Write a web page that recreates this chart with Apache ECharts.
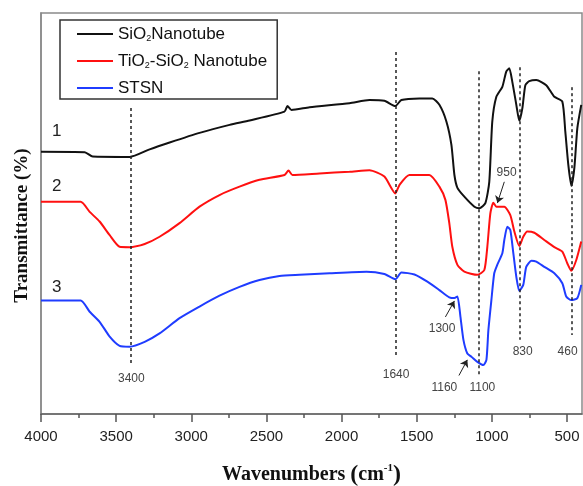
<!DOCTYPE html>
<html>
<head>
<meta charset="utf-8">
<script src="https://cdn.jsdelivr.net/npm/echarts@6/dist/echarts.min.js"></script>
<style>
html, body { margin: 0; padding: 0; background: #fff; }
#chart { width: 583px; height: 486px; }
</style>
</head>
<body>
<div id="chart"></div>
<script>
// FTIR spectra, values (transmittance in arbitrary %)
var wnSiO2 = [4000,3709,3656,3410,3277,3144,2945,2745,2612,2380,2360,2333,2213,1947,1814,1715,1642,1602,1482,1396,1349,1302,1269,1249,1229,1183,1116,1083,1043,1017,997,970,930,904,884,864,837,817,797,777,751,704,638,584,531,511,491,471,451,431,405];
var tSiO2 = [65.4,65.3,64.2,64.1,66.0,67.7,70.1,72.1,73.2,75.4,76.8,75.8,76.5,77.5,78.3,78.1,76.8,78.3,78.7,78.7,77.1,72.9,67.1,59.6,56.4,54.2,51.7,51.3,52.6,57.9,72.9,79.1,81.6,85.4,86.2,82.9,77.1,73.1,76.2,82.0,83.0,83.3,82.0,79.1,77.9,70.4,62.1,56.9,61.3,71.3,77.1];

var wnTiSi = [4000,3736,3676,3610,3543,3477,3410,3310,3211,3078,2945,2812,2679,2546,2380,2353,2327,2147,1947,1814,1715,1642,1615,1549,1416,1349,1309,1283,1263,1229,1183,1096,1050,1030,1010,990,970,917,877,850,817,791,764,717,651,584,531,498,471,438,405];
var tTiSi = [52.9,52.9,50.4,48.0,44.6,41.7,41.6,42.4,44.2,47.6,51.7,54.6,56.7,58.4,59.6,60.7,59.6,60.0,60.4,60.8,59.2,55.0,57.1,59.6,59.6,56.7,53.4,47.6,41.7,37.2,35.5,34.7,35.9,41.7,50.0,52.7,51.7,51.7,49.6,45.5,41.9,44.2,45.5,45.2,43.4,41.6,40.5,37.6,35.7,38.4,43.0];

var wnSTSN = [4000,3736,3676,3610,3543,3477,3410,3310,3211,3078,2945,2812,2679,2546,2413,2280,2080,1834,1715,1642,1602,1515,1429,1349,1283,1249,1229,1209,1189,1163,1136,1096,1057,1036,1023,1003,984,964,930,917,897,877,857,837,817,791,771,737,704,651,584,531,505,471,431,405];
var tSTSN = [28.3,28.3,25.5,23.0,19.3,17.0,16.8,18.0,20.1,23.9,26.8,29.5,31.7,33.4,34.4,34.7,35.1,35.5,34.9,33.6,35.3,34.8,33.0,30.9,29.1,28.9,29.3,24.3,18.5,15.1,14.3,13.0,12.2,13.5,20.9,28.4,35.1,37.2,40.1,43.4,46.7,45.9,40.1,34.2,30.7,32.2,36.7,38.2,38.0,36.7,35.1,32.6,29.3,28.4,28.9,32.2];

var seriesNames = ['SiO2Nanotube', 'TiO2-SiO2 Nanotube', 'STSN'];
var legendText = ['SiO{sub|2}Nanotube', 'TiO{sub|2}-SiO{sub|2} Nanotube', 'STSN'];

var majorTicks = [4000, 3500, 3000, 2500, 2000, 1500, 1000, 500];
var minorTicks = [3750, 3250, 2750, 2250, 1750, 1250, 750];

// dashed guide lines at the band positions
var guideWn = [3406, 1637, 1088, 815, 467];
var guideTop = [76.3, 90.3, 85.5, 86.5, 81.5];
var guideBottom = [12.2, 14.2, 9.2, 18.5, 19.7];

// band labels
var peakText = ['3400', '1640', '1300', '1160', '1100', '950', '830', '460'];
var peakWn = [3399, 1637, 1331, 1316, 1063, 902, 795, 496];
var peakT = [8.9, 9.7, 21.2, 6.5, 6.5, 60.3, 15.5, 15.5];

// arrows pointing at shoulders
var arrowFrom = [[917, 57.9], [1309, 24.2], [1219, 9.6]];
var arrowTo = [[963, 52.6], [1249, 28.2], [1163, 13.5]];

// curve numbers
var curveText = ['1', '2', '3'];
var curveWn = [3896, 3896, 3896];
var curveT = [70.4, 56.9, 31.7];

function zip(xs, ys) {
    var out = [];
    for (var i = 0; i < xs.length; i++) out.push([xs[i], ys[i]]);
    return out;
}

var myChart = echarts.init(document.getElementById('chart'));

var guideLines = [];
for (var i = 0; i < guideWn.length; i++) {
    guideLines.push([{coord: [guideWn[i], guideTop[i]]}, {coord: [guideWn[i], guideBottom[i]]}]);
}
var arrows = [];
for (var i = 0; i < arrowFrom.length; i++) {
    arrows.push([{coord: arrowFrom[i]}, {coord: arrowTo[i]}]);
}
var peakPoints = [];
for (var i = 0; i < peakText.length; i++) {
    peakPoints.push({coord: [peakWn[i], peakT[i]], value: peakText[i]});
}
for (var i = 0; i < curveText.length; i++) {
    peakPoints.push({
        coord: [curveWn[i], curveT[i]], value: curveText[i],
        label: {fontSize: 17, color: '#222'}
    });
}

var colors = ['#111111', '#ff1010', '#1f3cff'];
var dataSets = [zip(wnSiO2, tSiO2), zip(wnTiSi, tTiSi), zip(wnSTSN, tSTSN)];

var temp_series = [];
for (var i = 0; i < 3; i++) {
    temp_series.push({
        name: seriesNames[i],
        type: 'line',
        data: dataSets[i],
        showSymbol: false,
        symbol: 'none',
        smooth: 0.2,
        lineStyle: {width: 2, color: colors[i]},
        itemStyle: {color: colors[i]},
        z: 3
    });
}
temp_series[0].markLine = {
    silent: true, symbol: ['none', 'none'], animation: false,
    label: {show: false},
    lineStyle: {color: '#222', type: [3, 3], width: 1.5},
    data: guideLines
};
temp_series[1].markLine = {
    silent: true, symbol: ['none', 'arrow'], symbolSize: 7, animation: false,
    label: {show: false},
    lineStyle: {color: '#222', type: 'solid', width: 1},
    data: arrows
};
temp_series[2].markPoint = {
    silent: true, symbol: 'circle', symbolSize: 0, animation: false,
    label: {
        show: true, position: 'inside', formatter: '{c}',
        fontFamily: 'Liberation Sans, Arial', fontSize: 12, color: '#444'
    },
    data: peakPoints
};

var option = {
    animation: false,
    grid: {
        left: 41, right: 1, top: 13, bottom: 72,
        outerBoundsMode: 'none',
        show: true, borderColor: '#8a8a8a', borderWidth: 1.5
    },
    legend: {
        orient: 'vertical', left: 60, top: 20,
        icon: 'rect', itemWidth: 36, itemHeight: 2, itemGap: 9,
        padding: [5, 10, 2, 17],
        borderColor: '#333', borderWidth: 1.5,
        data: seriesNames,
        formatter: function (name) {
            return legendText[seriesNames.indexOf(name)];
        },
        textStyle: {
            fontFamily: 'Liberation Sans, Arial', fontSize: 17, color: '#111', lineHeight: 18,
            rich: {
                sub: {fontFamily: 'Liberation Sans, Arial', fontSize: 9, lineHeight: 10, color: '#111', verticalAlign: 'bottom'}
            }
        }
    },
    xAxis: [
        {
            type: 'value', min: 400, max: 4000, inverse: true, position: 'bottom',
            name: 'Wavenumbers {p|(}cm{sup|-1}{p|)}', nameLocation: 'middle', nameGap: 49,
            nameTextStyle: {
                fontFamily: 'Liberation Serif, Times New Roman', fontWeight: 'bold', fontSize: 20, color: '#111',
                rich: {
                    p: {fontFamily: 'Liberation Serif', fontSize: 24, color: '#111'},
                    sup: {fontFamily: 'Liberation Serif', fontWeight: 'bold', fontSize: 11, color: '#111', verticalAlign: 'top'}
                }
            },
            axisLine: {show: true, lineStyle: {color: '#666', width: 1.5}},
            axisTick: {show: true, inside: false, length: 8, customValues: majorTicks, lineStyle: {color: '#555', width: 1.5}},
            axisLabel: {
                show: true, customValues: majorTicks, margin: 15,
                formatter: function (v) { return String(v); },
                fontFamily: 'Liberation Sans, Arial', fontSize: 15, color: '#222'
            },
            splitLine: {show: false}
        },
        {
            type: 'value', min: 400, max: 4000, inverse: true, position: 'bottom',
            axisLine: {show: false},
            axisTick: {show: true, inside: false, length: 4, customValues: minorTicks, lineStyle: {color: '#555', width: 1.5}},
            axisLabel: {show: false},
            splitLine: {show: false}
        }
    ],
    yAxis: {
        type: 'value', min: 0, max: 100,
        name: 'Transmittance (%)', nameLocation: 'middle', nameGap: 9, nameRotate: 90,
        nameTextStyle: {
            fontFamily: 'Liberation Serif, Times New Roman', fontWeight: 'bold', fontSize: 19, color: '#111',
            padding: [0, 24, 0, 0]
        },
        axisLine: {show: true, lineStyle: {color: '#8a8a8a', width: 1.5}},
        axisTick: {show: false},
        axisLabel: {show: false},
        splitLine: {show: false}
    },
    series: temp_series
};

myChart.setOption(option);
</script>
</body>
</html>
